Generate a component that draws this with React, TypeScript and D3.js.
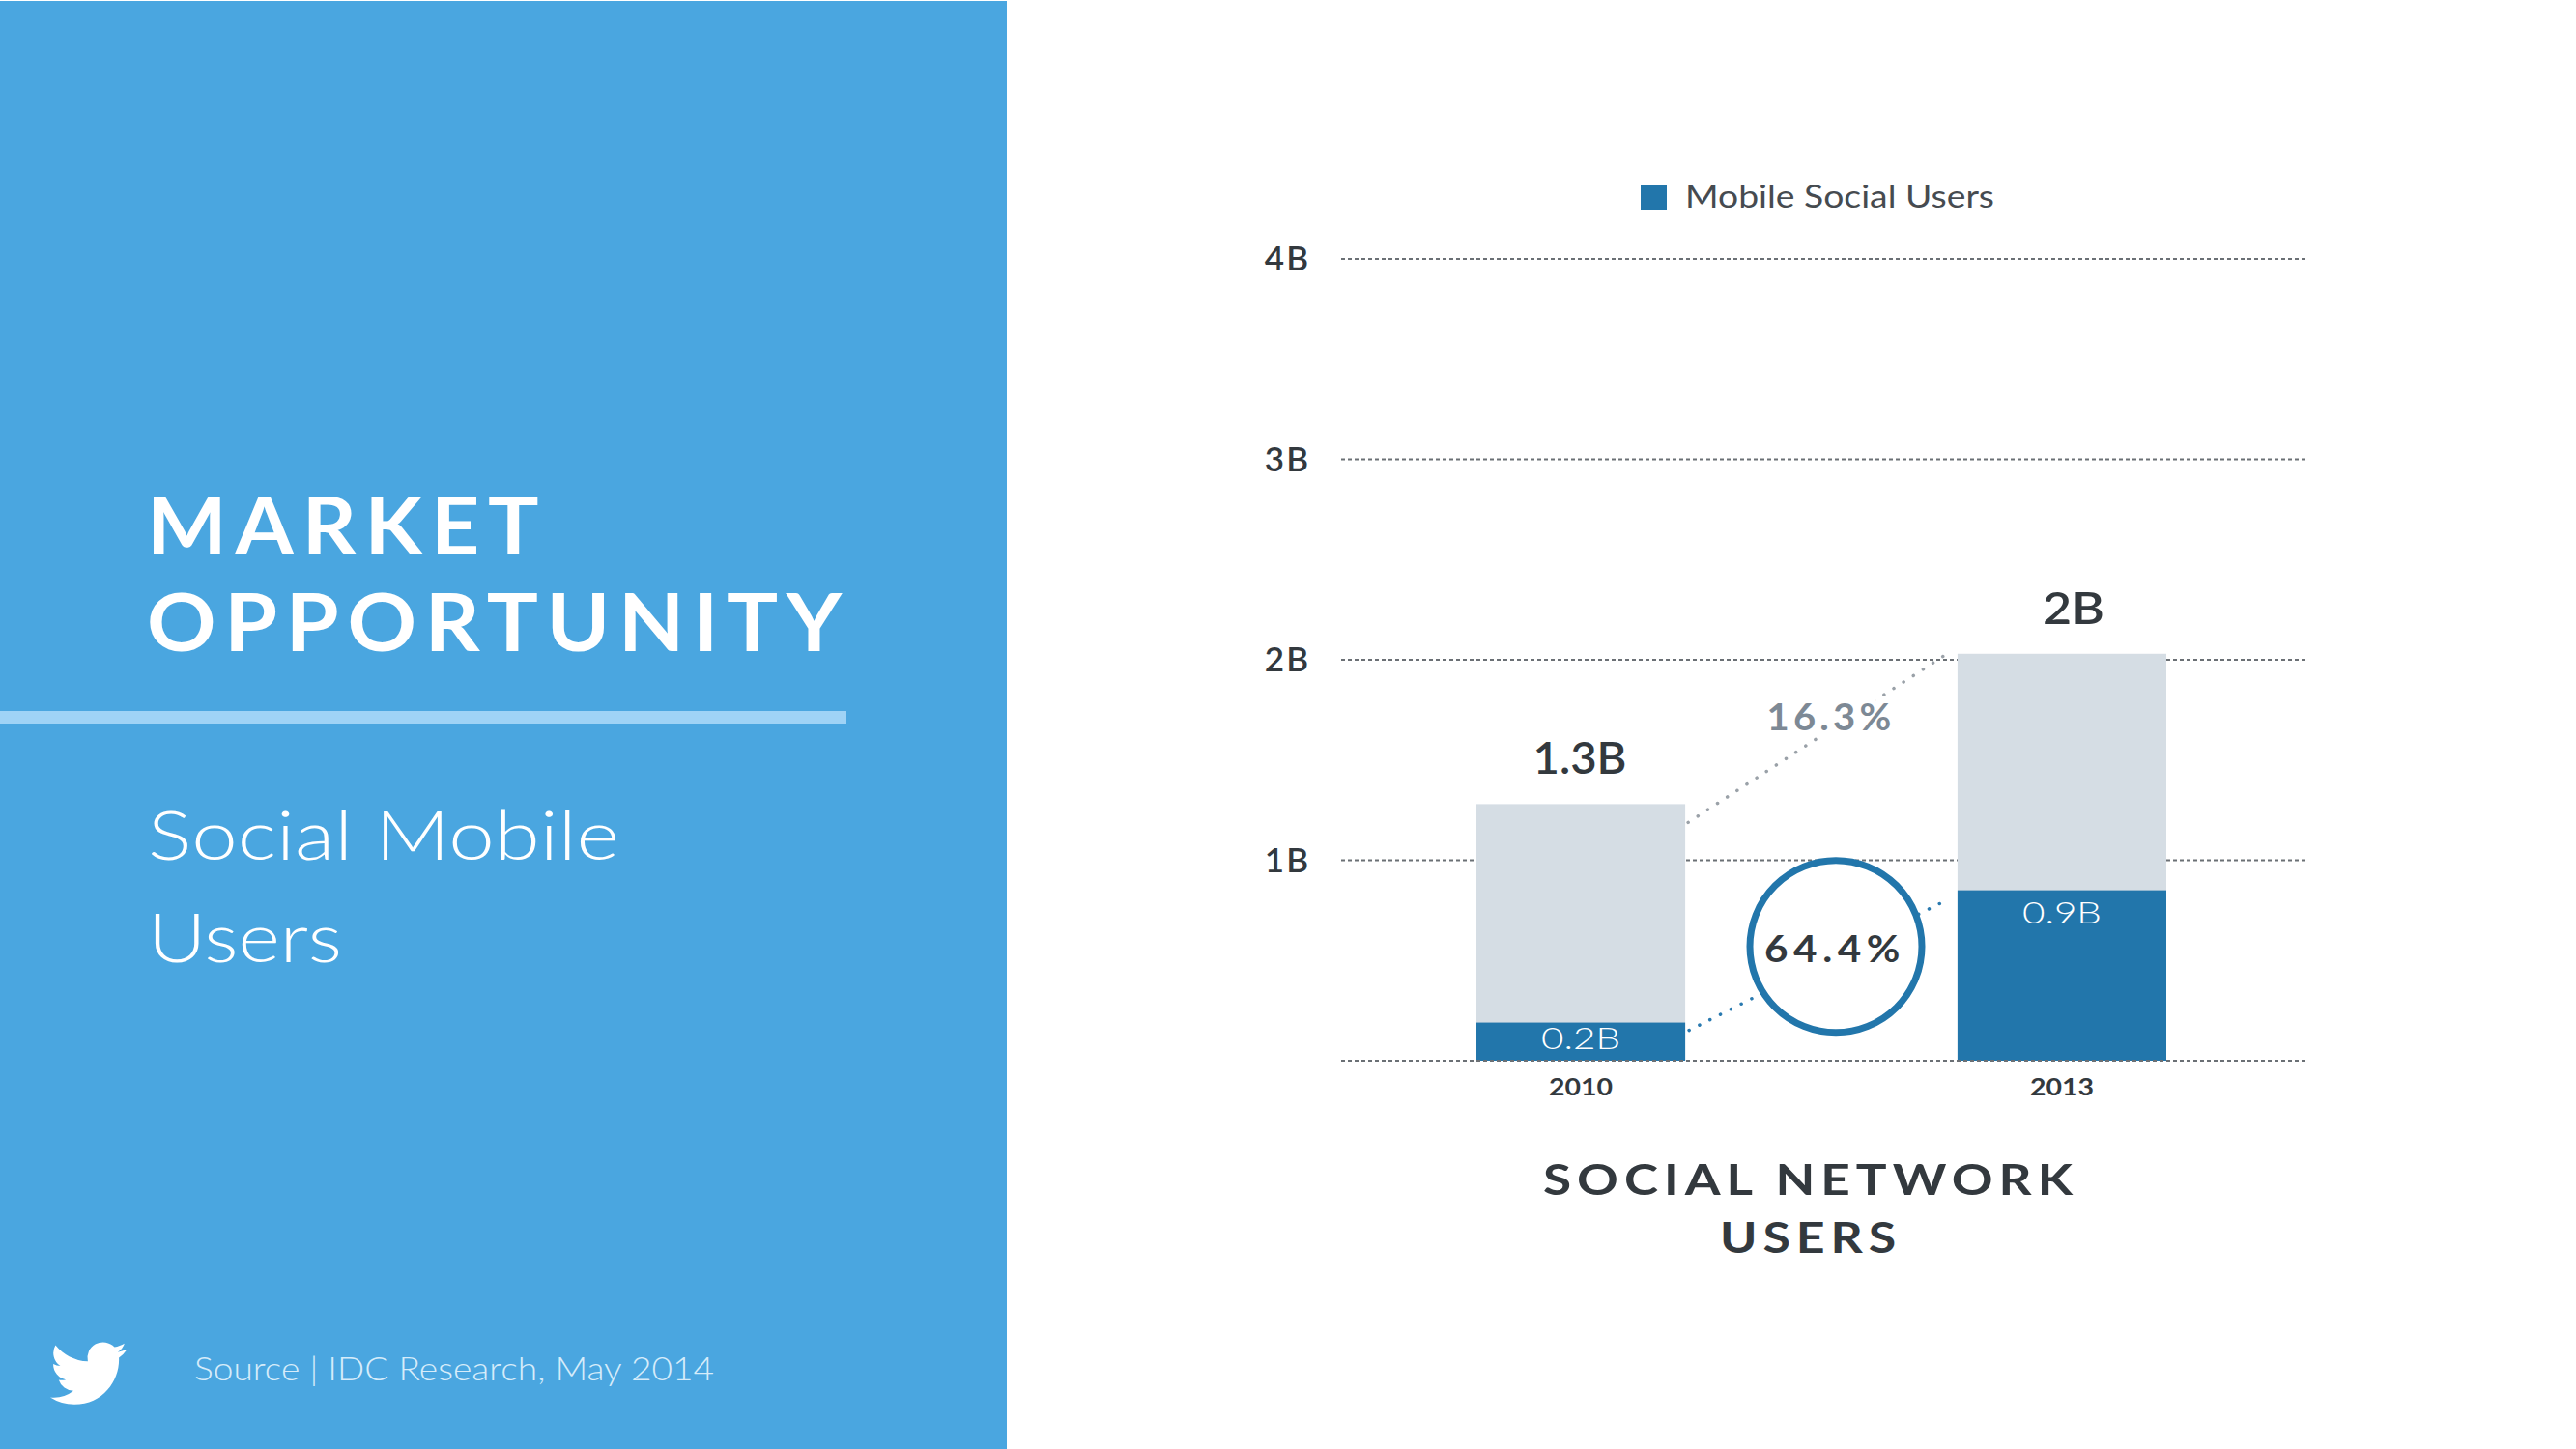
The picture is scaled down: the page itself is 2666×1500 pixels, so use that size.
import React, { useEffect } from "react";
import * as d3 from "d3";

// ---- data ----
const years = ["2010", "2013"];
const totalUsers = [1.28, 2.03]; // billions
const mobileUsers = [0.19, 0.85]; // billions
const totalLabels = ["1.3B", "2B"];
const mobileLabels = ["0.2B", "0.9B"];
const yTicks = [0, 1, 2, 3, 4];
const yTickLabels = ["", "1B", "2B", "3B", "4B"];
const totalGrowth = "16.3%";
const mobileGrowth = "64.4%";
const legendLabel = "Mobile Social Users";
const chartTitle = ["SOCIAL NETWORK", "USERS"];
const panelTitle = ["MARKET", "OPPORTUNITY"];
const panelSubtitle = ["Social Mobile", "Users"];
const sourceText = "Source | IDC Research, May 2014";

const W = 2666;
const H = 1500;
const FONT = "Lato, 'Open Sans', sans-serif";

const C = {
  panel: "#4aa6e0",
  rule: "#9fd3f6",
  barGray: "#d5dde4",
  barBlue: "#2276ab",
  dark: "#33393e",
  grid: "#6b7075",
  growthGray: "#7d8995",
  dotGray: "#9aa1a8",
  dotBlue: "#2a7ab0",
};

const BIRD =
  "M23.953 4.57a10 10 0 01-2.825.775 4.958 4.958 0 002.163-2.723c-.951.555-2.005.959-3.127 1.184a4.92 4.92 0 00-8.384 4.482C7.69 8.095 4.067 6.13 1.64 3.162a4.822 4.822 0 00-.666 2.475c0 1.71.87 3.213 2.188 4.096a4.904 4.904 0 01-2.228-.616v.06a4.923 4.923 0 003.946 4.827 4.996 4.996 0 01-2.212.085 4.936 4.936 0 004.604 3.417 9.867 9.867 0 01-6.102 2.105c-.39 0-.779-.023-1.17-.067a13.995 13.995 0 007.557 2.209c9.053 0 13.998-7.496 13.998-13.985 0-.21 0-.42-.015-.63A9.935 9.935 0 0024 4.59z";

const SG = "spacingAndGlyphs";

export default function App() {
  useEffect(() => {
    document.body.style.margin = "0";
    document.body.style.overflow = "hidden";
  }, []);

  const y = d3.scaleLinear().domain([0, 4]).range([1098, 268]);
  const x = d3
    .scaleBand<string>()
    .domain(years)
    .range([1528, 2242])
    .paddingInner(0.566)
    .paddingOuter(0);
  const bw = x.bandwidth();
  const gridX0 = 1388;
  const gridX1 = 2388;

  const x0 = x(years[0])!;
  const x1 = x(years[1])!;
  const gapMid = (x0 + bw + x1) / 2;

  const lineGen = d3.line<[number, number]>();
  const grayConn = lineGen([
    [x0 + bw + 3, y(totalUsers[0]) + 19],
    [x1 - 14, y(totalUsers[1]) + 2],
  ]);
  const blueConn = lineGen([
    [x0 + bw + 4, y(mobileUsers[0]) + 8],
    [x1 - 9, y(mobileUsers[1]) + 9],
  ]);

  const circleCx = gapMid + 15;
  const circleCy = y(0.57);

  return (
    <svg
      width={W}
      height={H}
      viewBox={`0 0 ${W} ${H}`}
      style={{ position: "absolute", left: 0, top: 0, display: "block" }}
      fontFamily={FONT}
    >
      <rect x={0} y={0} width={W} height={H} fill="#ffffff" />

      {/* left panel */}
      <rect x={0} y={1} width={1042} height={H - 1} fill={C.panel} />
      {panelTitle.map((t, i) => (
        <text
          key={t}
          x={152}
          y={574 + i * 100}
          fill="#ffffff"
          fontSize={82}
          fontWeight={700}
          letterSpacing={8}
          textLength={i === 0 ? 414 : 728}
          lengthAdjust={SG}
        >
          {t}
        </text>
      ))}
      <rect x={0} y={736} width={876} height={13} fill={C.rule} />
      {panelSubtitle.map((t, i) => (
        <text
          key={t}
          x={153}
          y={890 + i * 106}
          fill="#ffffff"
          fontSize={70}
          fontWeight={300}
          textLength={i === 0 ? 488 : 201}
          lengthAdjust={SG}
        >
          {t}
        </text>
      ))}
      <path d={BIRD} fill="#ffffff" transform="translate(52,1382) scale(3.3)" />
      <text
        x={201}
        y={1429}
        fill="#d6ecfa"
        fontSize={33}
        fontWeight={300}
        textLength={538}
        lengthAdjust={SG}
      >
        {sourceText}
      </text>

      {/* legend */}
      <rect x={1698} y={191} width={27} height={26} fill={C.barBlue} />
      <text
        x={1744}
        y={215}
        fill="#464b50"
        fontSize={33}
        fontWeight={400}
        textLength={320}
        lengthAdjust={SG}
      >
        {legendLabel}
      </text>

      {/* gridlines (except baseline) */}
      {yTicks
        .filter((t) => t > 0)
        .map((t) => (
          <line
            key={t}
            x1={gridX0}
            x2={gridX1}
            y1={y(t)}
            y2={y(t)}
            stroke={C.grid}
            strokeWidth={1.8}
            strokeDasharray="4 3"
          />
        ))}
      {yTicks.map((t, i) =>
        yTickLabels[i] ? (
          <text
            key={"l" + t}
            x={1356}
            y={y(t) + 12}
            textAnchor="end"
            fill={C.dark}
            fontSize={35}
            fontWeight={600}
            letterSpacing={2}
          >
            {yTickLabels[i]}
          </text>
        ) : null
      )}

      {/* connectors */}
      <path
        d={grayConn!}
        stroke={C.dotGray}
        strokeWidth={3.5}
        strokeLinecap="round"
        strokeDasharray="0.1 12"
        fill="none"
      />
      <path
        d={blueConn!}
        stroke={C.dotBlue}
        strokeWidth={3.5}
        strokeLinecap="round"
        strokeDasharray="0.1 12"
        fill="none"
      />

      {/* bars */}
      {years.map((yr, i) => (
        <g key={yr}>
          <rect
            x={x(yr)}
            y={y(totalUsers[i])}
            width={bw}
            height={y(0) - y(totalUsers[i])}
            fill={C.barGray}
          />
          <rect
            x={x(yr)}
            y={y(mobileUsers[i])}
            width={bw}
            height={y(0) - y(mobileUsers[i])}
            fill={C.barBlue}
          />
          <text
            x={x(yr)! + bw / 2 + (i === 1 ? 12 : -1)}
            y={y(totalUsers[i]) - 31}
            textAnchor="middle"
            fill={C.dark}
            fontSize={47}
            fontWeight={600}
            textLength={i === 0 ? 97 : 64}
            lengthAdjust={SG}
          >
            {totalLabels[i]}
          </text>
          <text
            x={x(yr)! + bw / 2}
            y={y(mobileUsers[i]) + (i === 0 ? 27 : 34)}
            textAnchor="middle"
            fill="#ffffff"
            fontSize={31}
            fontWeight={300}
            textLength={82}
            lengthAdjust={SG}
          >
            {mobileLabels[i]}
          </text>
          <text
            x={x(yr)! + bw / 2}
            y={1134}
            textAnchor="middle"
            fill={C.dark}
            fontSize={24}
            fontWeight={700}
            textLength={66}
            lengthAdjust={SG}
          >
            {yr}
          </text>
        </g>
      ))}

      {/* baseline on top of bars */}
      <line
        x1={gridX0}
        x2={gridX1}
        y1={y(0)}
        y2={y(0)}
        stroke={C.grid}
        strokeWidth={1.8}
        strokeDasharray="4 3"
      />

      {/* growth annotations */}
      <text
        x={gapMid + 10}
        y={y(1.648)}
        textAnchor="middle"
        fill={C.growthGray}
        fontSize={38}
        fontWeight={700}
        stroke="#ffffff"
        strokeWidth={12}
        paintOrder="stroke"
        letterSpacing={4}
        textLength={133}
        lengthAdjust={SG}
      >
        {totalGrowth}
      </text>
      <circle
        cx={circleCx}
        cy={circleCy}
        r={89}
        fill="#ffffff"
        stroke={C.barBlue}
        strokeWidth={7}
      />
      <text
        x={circleCx - 1}
        y={circleCy + 16}
        textAnchor="middle"
        fill={C.dark}
        fontSize={38}
        fontWeight={700}
        letterSpacing={5}
        textLength={146}
        lengthAdjust={SG}
      >
        {mobileGrowth}
      </text>

      {/* chart title */}
      {chartTitle.map((t, i) => (
        <text
          key={t}
          x={1874}
          y={1237 + i * 60}
          textAnchor="middle"
          fill={C.dark}
          fontSize={44}
          fontWeight={700}
          letterSpacing={5}
          textLength={i === 0 ? 554 : 188}
          lengthAdjust={SG}
        >
          {t}
        </text>
      ))}
    </svg>
  );
}
